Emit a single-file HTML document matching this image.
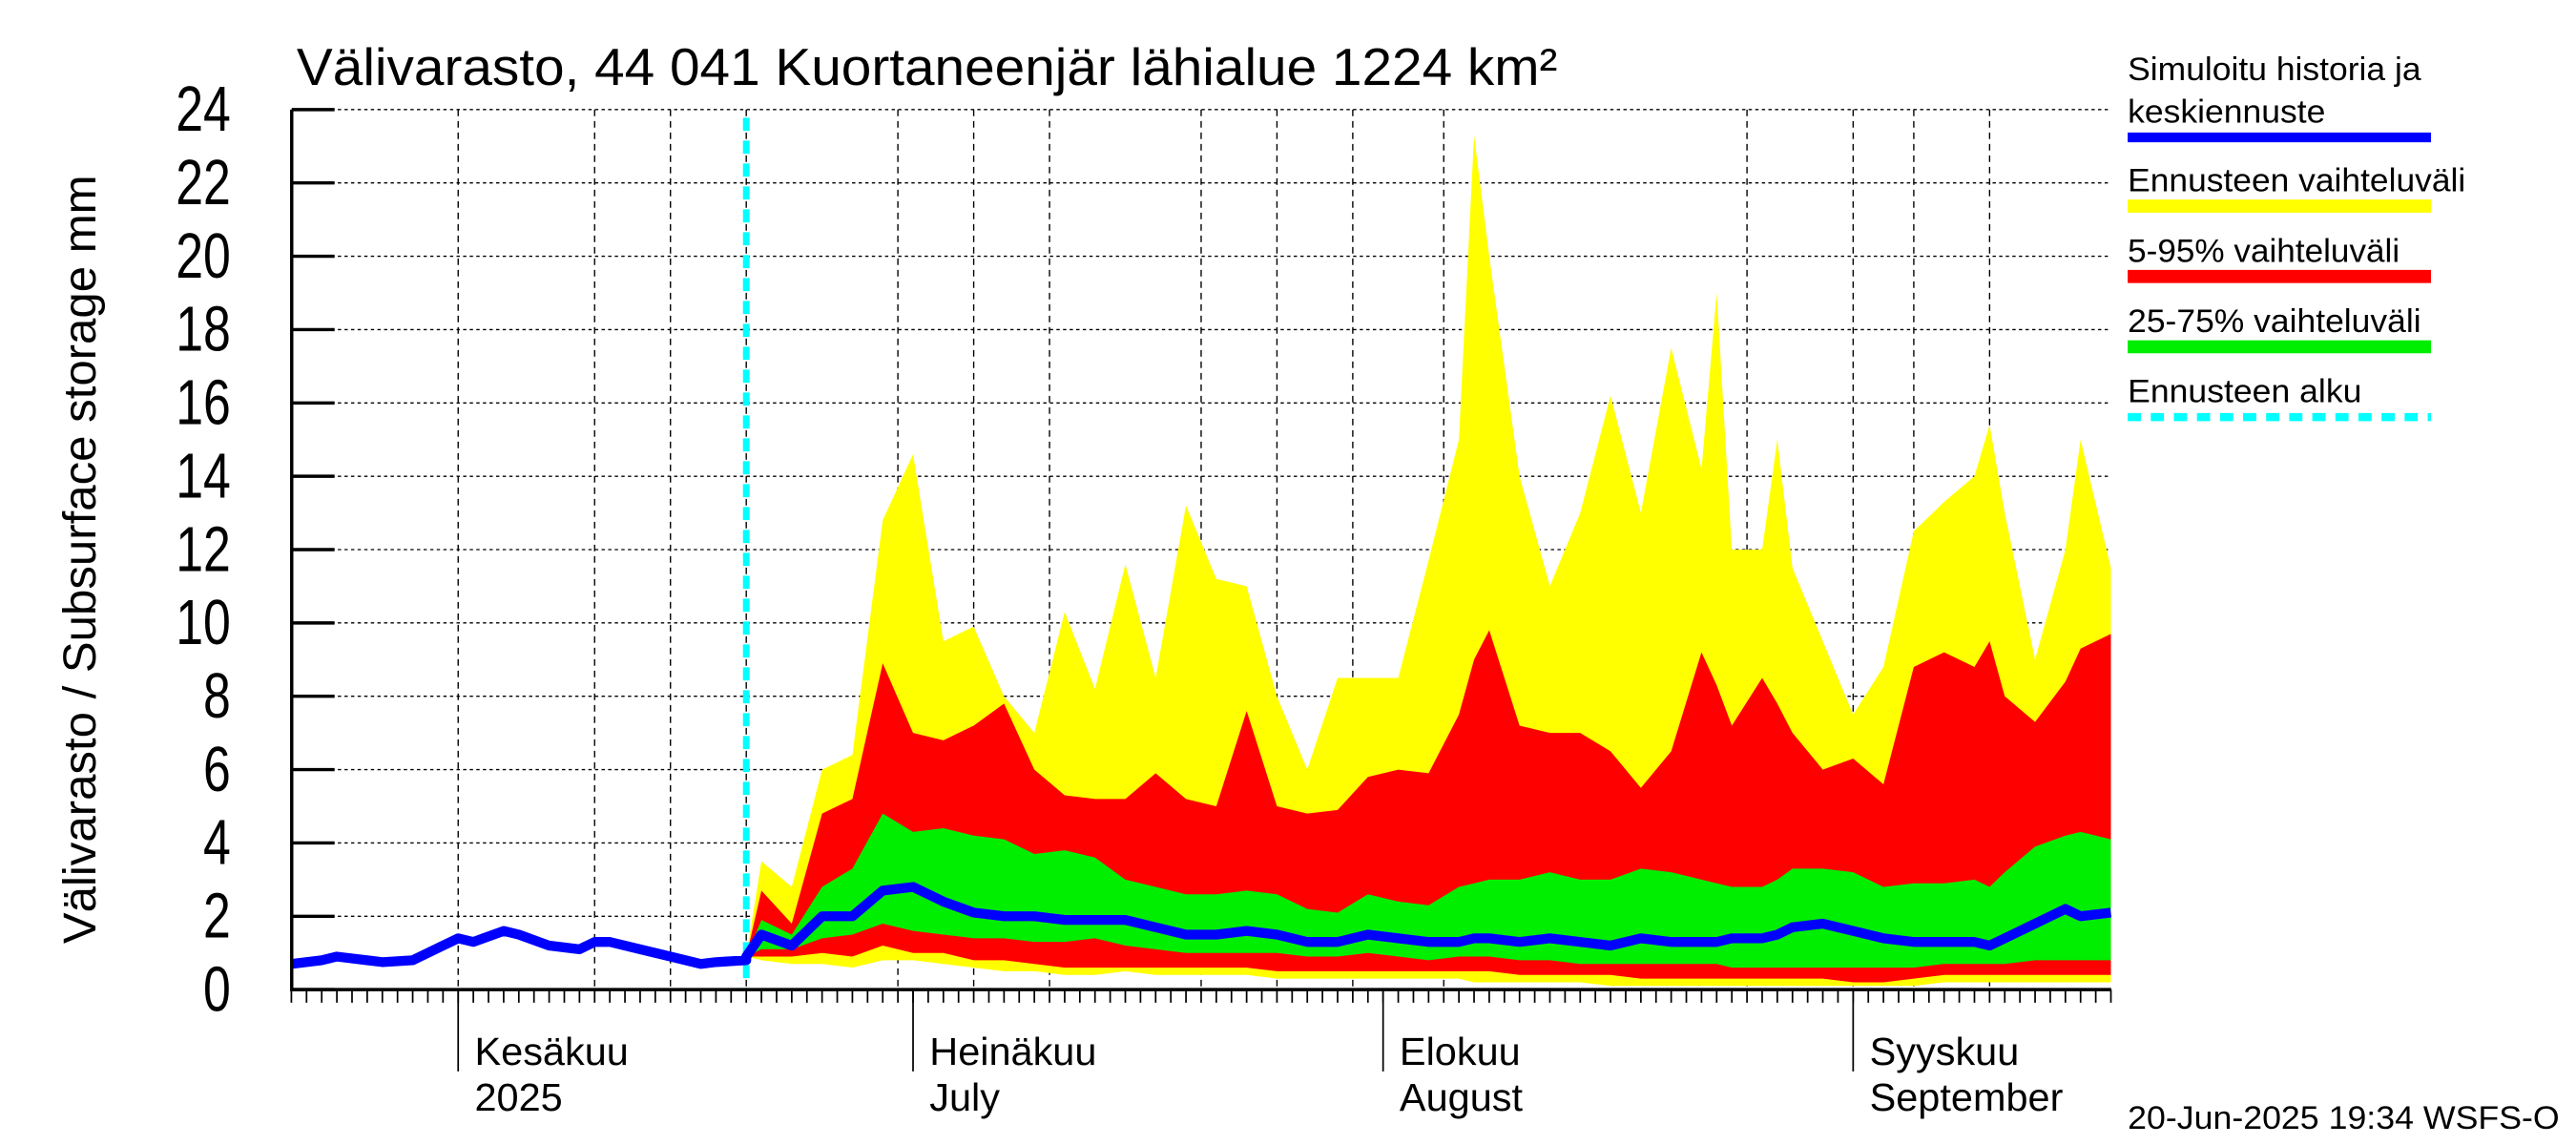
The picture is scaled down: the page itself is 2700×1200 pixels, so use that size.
<!DOCTYPE html>
<html><head><meta charset="utf-8"><style>
html,body{margin:0;padding:0;background:#fff;}
svg{display:block;}
text{font-family:"Liberation Sans",sans-serif;fill:#000;}
</style></head><body>
<svg id="c" width="2700" height="1200" viewBox="0 0 1563 700" preserveAspectRatio="none" xmlns="http://www.w3.org/2000/svg">
<text x="180" y="52" font-size="32" textLength="765" lengthAdjust="spacingAndGlyphs">Välivarasto, 44 041 Kuortaneenjär lähialue 1224 km²</text>
<text transform="translate(58,342) rotate(-90)" text-anchor="middle" font-size="28" textLength="470" lengthAdjust="spacingAndGlyphs">Välivarasto / Subsurface storage  mm</text>
<g id="plot"></g>
<g font-size="20">
<text x="1291" y="49" textLength="178" lengthAdjust="spacingAndGlyphs">Simuloitu historia ja</text>
<text x="1291" y="75" textLength="120" lengthAdjust="spacingAndGlyphs">keskiennuste</text>
<line x1="1291" y1="84" x2="1475" y2="84" stroke="#0000ff" stroke-width="6"/>
<text x="1291" y="117" textLength="205" lengthAdjust="spacingAndGlyphs">Ennusteen vaihteluväli</text>
<line x1="1291" y1="126" x2="1475" y2="126" stroke="#ffff00" stroke-width="8"/>
<text x="1291" y="160" textLength="165" lengthAdjust="spacingAndGlyphs">5-95% vaihteluväli</text>
<line x1="1291" y1="169" x2="1475" y2="169" stroke="#ff0000" stroke-width="8"/>
<text x="1291" y="203" textLength="178" lengthAdjust="spacingAndGlyphs">25-75% vaihteluväli</text>
<line x1="1291" y1="212" x2="1475" y2="212" stroke="#00ee00" stroke-width="8"/>
<text x="1291" y="246" textLength="142" lengthAdjust="spacingAndGlyphs">Ennusteen alku</text>
<line x1="1291" y1="255" x2="1475" y2="255" stroke="#00ffff" stroke-width="5" stroke-dasharray="8,6"/>
</g>
<text x="1291" y="690" font-size="20" textLength="262" lengthAdjust="spacingAndGlyphs">20-Jun-2025 19:34 WSFS-O</text>
</svg>
<script>
const histDays=[-11,-9,-8,-6,-5,-3,-1,0,1,3,4,6,8,9,10,12,14,15,16,17,19];
const histVals=[0.7,0.8,0.9,0.8,0.75,0.8,1.2,1.4,1.3,1.6,1.5,1.2,1.1,1.3,1.3,1.1,0.9,0.8,0.7,0.75,0.8];
const fDays=[19,20,22,24,26,28,30,32,34,36,38,40,42,44,46,48,50,52,54,56,58,60,62,64,66,67,68,70,72,74,76,78,80,82,83,84,86,87,88,90,92,94,96,98,100,101,102,104,106,107,109];
const fMax=[0.9,3.5,2.8,6.0,6.4,12.8,14.6,9.5,9.9,8.0,7.0,10.3,8.2,11.6,8.5,13.2,11.2,11.0,8.0,6.0,8.5,8.5,8.5,11.7,15.0,23.3,20.0,14.0,11.0,13.0,16.2,13.0,17.5,14.2,19.0,12.0,12.0,15.0,11.5,9.5,7.5,8.8,12.5,13.3,14.0,15.4,13.0,9.0,12.0,15.0,11.5];
const fP95=[0.9,2.7,1.8,4.8,5.2,8.9,7.0,6.8,7.2,7.8,6.0,5.3,5.2,5.2,5.9,5.2,5.0,7.6,5.0,4.8,4.9,5.8,6.0,5.9,7.5,9.0,9.8,7.2,7.0,7.0,6.5,5.5,6.5,9.2,8.3,7.2,8.5,7.8,7.0,6.0,6.3,5.6,8.8,9.2,8.8,9.5,8.0,7.3,8.4,9.3,9.7];
const fP75=[0.9,1.9,1.5,2.8,3.3,4.8,4.3,4.4,4.2,4.1,3.7,3.8,3.6,3.0,2.8,2.6,2.6,2.7,2.6,2.2,2.1,2.6,2.4,2.3,2.8,2.9,3.0,3.0,3.2,3.0,3.0,3.3,3.2,3.0,2.9,2.8,2.8,3.0,3.3,3.3,3.2,2.8,2.9,2.9,3.0,2.8,3.2,3.9,4.2,4.3,4.1];
const fMed=[0.9,1.5,1.2,2.0,2.0,2.7,2.8,2.4,2.1,2.0,2.0,1.9,1.9,1.9,1.7,1.5,1.5,1.6,1.5,1.3,1.3,1.5,1.4,1.3,1.3,1.4,1.4,1.3,1.4,1.3,1.2,1.4,1.3,1.3,1.3,1.4,1.4,1.5,1.7,1.8,1.6,1.4,1.3,1.3,1.3,1.2,1.4,1.8,2.2,2.0,2.1];
const fP25=[0.9,1.1,1.1,1.4,1.5,1.8,1.6,1.5,1.4,1.4,1.3,1.3,1.4,1.2,1.1,1.0,1.0,1.0,1.0,0.9,0.9,1.0,0.9,0.8,0.9,0.9,0.9,0.8,0.8,0.7,0.7,0.7,0.7,0.7,0.7,0.6,0.6,0.6,0.6,0.6,0.6,0.6,0.6,0.7,0.7,0.7,0.7,0.8,0.8,0.8,0.8];
const fP5=[0.9,0.9,0.9,1.0,0.9,1.2,1.0,1.0,0.8,0.8,0.7,0.6,0.6,0.6,0.6,0.6,0.6,0.6,0.5,0.5,0.5,0.5,0.5,0.5,0.5,0.5,0.5,0.4,0.4,0.4,0.4,0.3,0.3,0.3,0.3,0.3,0.3,0.3,0.3,0.3,0.2,0.2,0.3,0.4,0.4,0.4,0.4,0.4,0.4,0.4,0.4];
const fMin=[0.9,0.8,0.7,0.7,0.6,0.8,0.8,0.7,0.6,0.5,0.5,0.4,0.4,0.5,0.4,0.4,0.4,0.4,0.3,0.3,0.3,0.3,0.3,0.3,0.3,0.2,0.2,0.2,0.2,0.2,0.1,0.1,0.1,0.1,0.1,0.1,0.1,0.1,0.1,0.1,0.1,0.1,0.1,0.2,0.2,0.2,0.2,0.2,0.2,0.2,0.2];
const yTicks=[0,2,4,6,8,10,12,14,16,18,20,22,24];
const gridDays=[0,9,14,19,29,34,39,49,54,59,65,85,92,96,101];
const monthDays=[0,30,61,92];
const monthLabels=[["Kesäkuu","2025"],["Heinäkuu","July"],["Elokuu","August"],["Syyskuu","September"]];
const forecastDay=19;

const X0=177,X1=1281,Y0=605,Y1=67;
const x=d=>278+d*9.2;
const y=v=>Y0-(v/24)*(Y0-Y1);
const NS="http://www.w3.org/2000/svg";
const g=document.getElementById('plot');
function mk(t,a){const e=document.createElementNS(NS,t);for(const k in a)e.setAttribute(k,a[k]);g.appendChild(e);return e;}

yTicks.forEach(v=>{
 if(v>0){const l=mk('line',{x1:X0,x2:X1,y1:y(v),y2:y(v),stroke:'#000','stroke-width':0.8,'stroke-dasharray':'2,2'});
 
 }
 const t=mk('line',{x1:X0,x2:X0+26,y1:y(v),y2:y(v),stroke:'#000','stroke-width':2});
 
 
 const tx=mk('text',{x:140,y:0,'text-anchor':'end','font-size':30,transform:`translate(0,${y(v)+13}) scale(1,1.3)`});
 tx.textContent=v;
 
 
});
gridDays.forEach(d=>{
 const l=mk('line',{x1:x(d),x2:x(d),y1:Y1,y2:Y0,stroke:'#000','stroke-width':0.8,'stroke-dasharray':'4,3'});
 
 
});
function band(top,bot,color,name){
 let p='';
 fDays.forEach((d,i)=>{p+=(i?'L':'M')+x(d)+','+y(top[i]);});
 for(let i=fDays.length-1;i>=0;i--)p+='L'+x(fDays[i])+','+y(bot[i]);
 const e=mk('path',{d:p+'Z',fill:color});
 
 
}
band(fMax,fMin,'#ffff00','forecast-range-band');
band(fP95,fP5,'#ff0000','band-5-95');
band(fP75,fP25,'#00ee00','band-25-75');
const fs=mk('line',{x1:x(forecastDay),x2:x(forecastDay),y1:Y1+5,y2:Y0,stroke:'#00ffff','stroke-width':4,'stroke-dasharray':'8,6'});


let mp='';
histDays.forEach((d,i)=>{mp+=(i?'L':'M')+x(d)+','+y(histVals[i]);});
fDays.forEach((d,i)=>{mp+='L'+x(d)+','+y(fMed[i]);});
const ml=mk('path',{d:mp,fill:'none',stroke:'#0000ff','stroke-width':6,'stroke-linejoin':'round'});


const ax=mk('path',{d:`M${X0},${Y1}L${X0},${Y0}L${X1},${Y0}`,fill:'none',stroke:'#000','stroke-width':2});


for(let d=-11;d<=109;d++){
 const t=mk('line',{x1:x(d),x2:x(d),y1:Y0,y2:Y0+8,stroke:'#000','stroke-width':1});
 
 
}
monthDays.forEach((d,i)=>{
 const t=mk('line',{x1:x(d),x2:x(d),y1:Y0,y2:Y0+50,stroke:'#000','stroke-width':1});
 
 
 const a=mk('text',{x:x(d)+10,y:651,'font-size':24});a.textContent=monthLabels[i][0];
 
 
 const b=mk('text',{x:x(d)+10,y:679,'font-size':24});b.textContent=monthLabels[i][1];
 
 
});
</script>
</body></html>
